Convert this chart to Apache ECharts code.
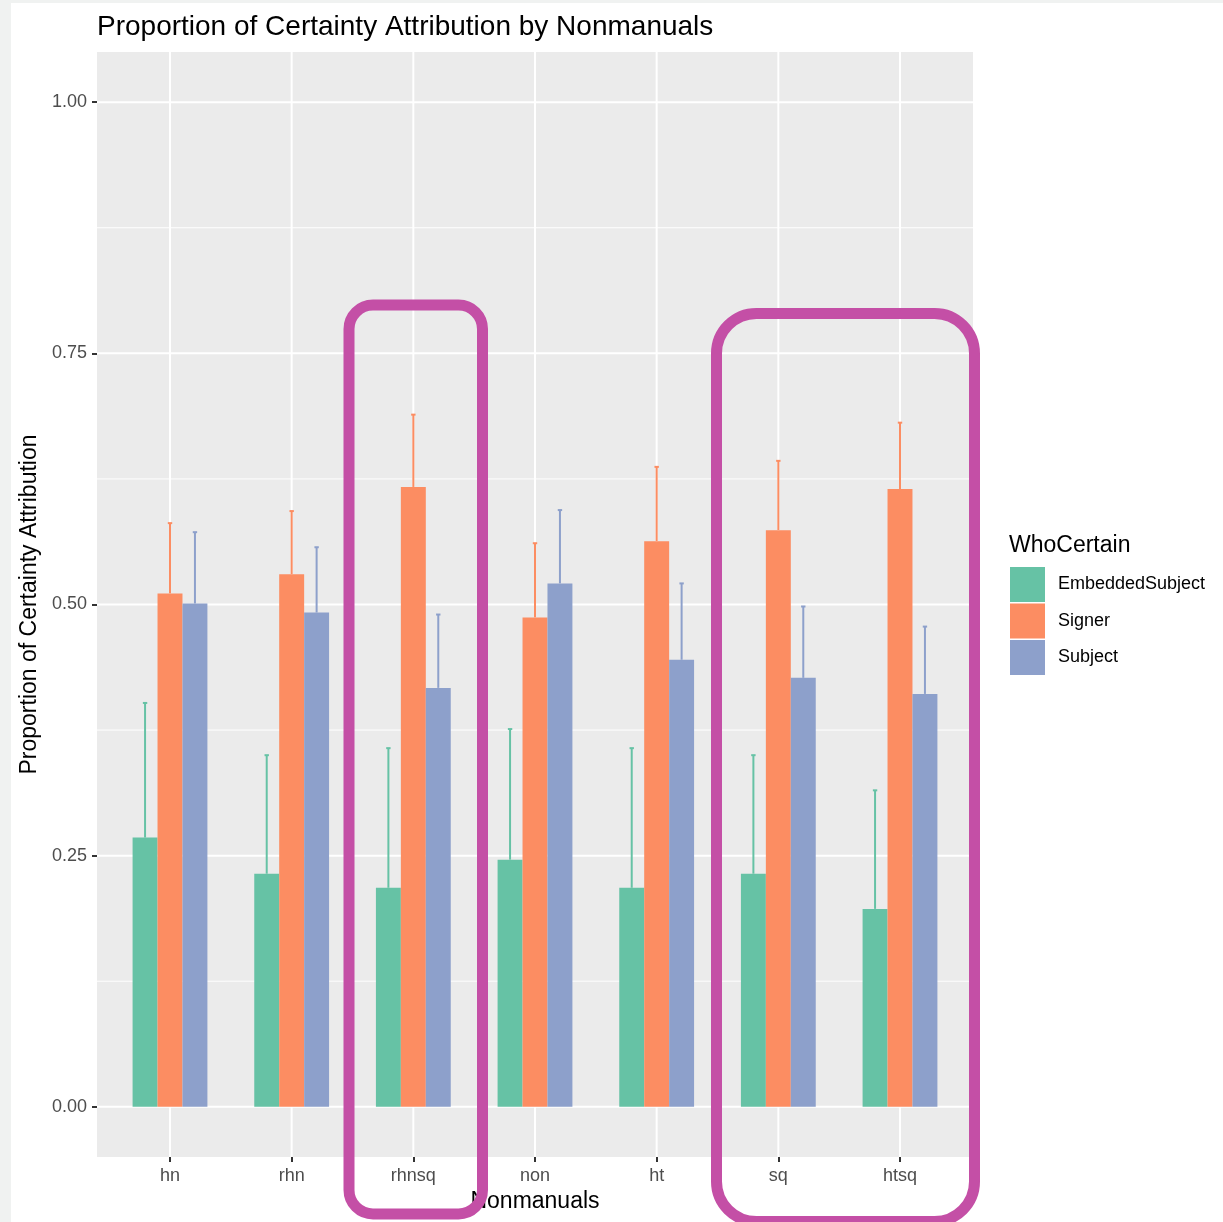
<!DOCTYPE html>
<html>
<head>
<meta charset="utf-8">
<script src="https://cdn.jsdelivr.net/npm/echarts@6/dist/echarts.min.js"></script>
<style>html,body{margin:0;padding:0;background:#fff;}#c{width:1223px;height:1222px;}</style>
</head>
<body>
<div id="c"></div>
<script>
const categories = ['hn','rhn','rhnsq','non','ht','sq','htsq'];
const embedded      = [0.268,0.232,0.218,0.246,0.218,0.232,0.197];
const embeddedUpper = [0.402,0.350,0.357,0.376,0.357,0.350,0.315];
const signer        = [0.511,0.530,0.617,0.487,0.563,0.574,0.615];
const signerUpper   = [0.581,0.593,0.689,0.561,0.637,0.643,0.681];
const subject       = [0.501,0.492,0.417,0.521,0.445,0.427,0.411];
const subjectUpper  = [0.572,0.557,0.490,0.594,0.521,0.498,0.478];
const yMajorTicks = [0, 0.25, 0.5, 0.75, 1.0];
const yMinorTicks = [0.125, 0.375, 0.625, 0.875];
const xTicks = categories.map((c, i) => i);

const FONT = 'Liberation Sans, Arial, Helvetica, sans-serif';
const BW = 0.205;
const chart = echarts.init(document.getElementById('c'), null, {renderer: 'canvas'});

function barSeries(name, k, vals, uppers, color) {
  return {
    name: name,
    type: 'custom',
    z: 5,
    itemStyle: {color: color},
    data: categories.map((c, i) => [i, vals[i], uppers[i]]),
    renderItem: function (params, api) {
      const i = api.value(0), v = api.value(1), u = api.value(2);
      const tl = api.coord([i + (k - 1.5) * BW, v]);
      const br = api.coord([i + (k - 0.5) * BW, 0]);
      const c = api.coord([i + (k - 1) * BW, u]);
      const capHalf = api.size([0.018, 0])[0];
      return {
        type: 'group',
        children: [
          {type: 'line', shape: {x1: c[0], y1: tl[1], x2: c[0], y2: c[1]}, style: {stroke: color, lineWidth: 2}},
          {type: 'line', shape: {x1: c[0] - capHalf, y1: c[1], x2: c[0] + capHalf, y2: c[1]}, style: {stroke: color, lineWidth: 2}},
          {type: 'rect', shape: {x: tl[0], y: tl[1], width: br[0] - tl[0], height: br[1] - tl[1]}, style: {fill: color}}
        ]
      };
    }
  };
}

function hGrid(ticks, width) {
  return {
    type: 'custom', silent: true, z: 1,
    data: ticks.map(t => [0, t]),
    renderItem: function (params, api) {
      const cs = params.coordSys;
      const y = api.coord([0, api.value(1)])[1];
      return {type: 'line', shape: {x1: cs.x, y1: y, x2: cs.x + cs.width, y2: y}, style: {stroke: '#ffffff', lineWidth: width}};
    }
  };
}
function vGrid(ticks, width) {
  return {
    type: 'custom', silent: true, z: 1,
    data: ticks.map(t => [t, 0]),
    renderItem: function (params, api) {
      const cs = params.coordSys;
      const x = api.coord([api.value(0), 0])[0];
      return {type: 'line', shape: {x1: x, y1: cs.y, x2: x, y2: cs.y + cs.height}, style: {stroke: '#ffffff', lineWidth: width}};
    }
  };
}

const option = {
  animation: false,
  backgroundColor: '#ffffff',
  title: {
    text: 'Proportion of Certainty Attribution by Nonmanuals',
    left: 92, top: 8,
    textStyle: {fontFamily: FONT, fontSize: 28, fontWeight: 'normal', color: '#000'}
  },
  grid: {left: 97, top: 52, right: 250, bottom: 65, show: true, backgroundColor: '#ebebeb', borderWidth: 0},
  legend: {
    orient: 'vertical', left: 1005, top: 562,
    itemWidth: 35, itemHeight: 35, itemGap: 1.5,
    icon: 'rect',
    data: ['EmbeddedSubject', 'Signer', 'Subject'],
    textStyle: {fontFamily: FONT, fontSize: 18, color: '#000', padding: [3, 0, 0, 8]},
    selectedMode: false
  },
  xAxis: {
    type: 'value', min: -0.6, max: 6.6,
    name: 'Nonmanuals', nameLocation: 'middle', nameGap: 31,
    nameTextStyle: {fontFamily: FONT, fontSize: 23, color: '#000'},
    axisLine: {show: false, onZero: false},
    splitLine: {show: false},
    axisTick: {show: true, length: 5, lineStyle: {color: '#333', width: 2}, customValues: xTicks},
    axisLabel: {customValues: xTicks, formatter: v => categories[Math.round(v)] || '', fontFamily: FONT, fontSize: 18, color: '#4d4d4d', margin: 10}
  },
  yAxis: {
    type: 'value', min: -0.05, max: 1.05,
    name: 'Proportion of Certainty Attribution', nameLocation: 'middle', nameGap: 47,
    nameTextStyle: {fontFamily: FONT, fontSize: 23, color: '#000'},
    axisLine: {show: false, onZero: false},
    splitLine: {show: false},
    axisTick: {show: true, length: 5, lineStyle: {color: '#333', width: 2}, customValues: yMajorTicks},
    axisLabel: {customValues: yMajorTicks, formatter: v => v.toFixed(2), fontFamily: FONT, fontSize: 18, color: '#4d4d4d', margin: 10}
  },
  series: [
    hGrid(yMinorTicks, 1),
    hGrid(yMajorTicks, 2),
    vGrid(xTicks, 2),
    barSeries('EmbeddedSubject', 0, embedded, embeddedUpper, '#66c2a5'),
    barSeries('Signer', 1, signer, signerUpper, '#fc8d62'),
    barSeries('Subject', 2, subject, subjectUpper, '#8da0cb')
  ],
  graphic: [
    {type: 'rect', left: 0, top: 0, shape: {width: 11, height: 1222}, style: {fill: '#f0f2f1'}, z: 100},
    {type: 'rect', left: 0, top: 0, shape: {width: 1223, height: 3}, style: {fill: '#f0f2f1'}, z: 100},
    {type: 'text', left: 1009, top: 534, style: {text: 'WhoCertain', font: '23px ' + FONT, fill: '#000'}, z: 100},
    {type: 'rect', shape: {x: 349, y: 305, width: 133.5, height: 909, r: 24}, style: {fill: 'none', stroke: '#c44fa6', lineWidth: 11}, z: 100},
    {type: 'rect', shape: {x: 716.5, y: 313.5, width: 258, height: 908, r: 40}, style: {fill: 'none', stroke: '#c44fa6', lineWidth: 11}, z: 100}
  ]
};
chart.setOption(option);
</script>
</body>
</html>
